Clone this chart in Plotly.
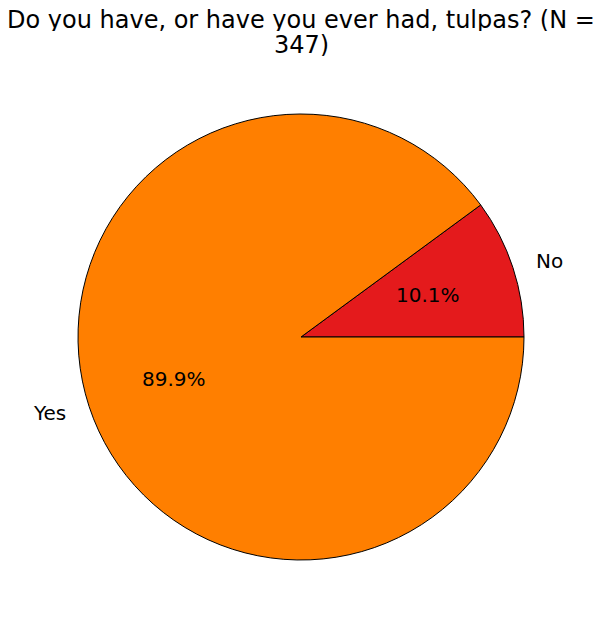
import math
import plotly.graph_objects as go

labels = ["No", "Yes"]
values = [35, 312]
colors = ["#e41a1c", "#ff7f00"]
title_lines = ["Do you have, or have you ever had, tulpas? (N =", "347)"]

W, H = 602, 624
OFF = 8  # page body margin
cx_px, cy_px, r_px = 301 - OFF, 337 - OFF, 223

total = sum(values)
first_deg = 360 * values[0] / total

fig = go.Figure()
fig.add_trace(go.Pie(
    labels=labels, values=values, sort=False,
    direction="counterclockwise", rotation=90 - first_deg,
    marker=dict(colors=colors, line=dict(color="black", width=1)),
    textinfo="none", hoverinfo="label+percent", showlegend=False,
    domain=dict(x=[(cx_px - r_px) / W, (cx_px + r_px) / W],
                y=[(H - cy_px - r_px) / H, (H - cy_px + r_px) / H]),
))

ann = []
start = 0.0
font = dict(family="DejaVu Sans", size=20, color="black")
for lab, v in zip(labels, values):
    frac = v / total
    mid = math.radians(start + frac * 360 / 2)
    start += frac * 360
    cx, cy = cx_px / W, (H - cy_px) / H
    rx, ry = r_px / W, r_px / H
    lx = cx + 1.1 * rx * math.cos(mid)
    ly = cy + 1.1 * ry * math.sin(mid)
    ann.append(dict(x=lx, y=ly, xref="paper", yref="paper", text=lab, showarrow=False,
                    xanchor="left" if math.cos(mid) > 0 else "right", yanchor="middle", font=font))
    px = cx + 0.6 * rx * math.cos(mid)
    py = cy + 0.6 * ry * math.sin(mid)
    ann.append(dict(x=px, y=py, xref="paper", yref="paper", text=f"{frac*100:.1f}%", showarrow=False,
                    xanchor="center", yanchor="middle", font=font))

for i, line in enumerate(title_lines):
    ann.append(dict(x=(301 - OFF) / W, y=(H - (20 - OFF) - 25 * i) / H, xref="paper", yref="paper",
                    text=line, showarrow=False, xanchor="center", yanchor="middle",
                    height=22, valign="middle", borderpad=0,
                    font=dict(family="DejaVu Sans", size=24, color="black")))

fig.update_layout(
    width=W, height=H, margin=dict(l=0, r=0, t=0, b=0),
    paper_bgcolor="white", plot_bgcolor="white",
    annotations=ann,
)
fig.write_html("out.html")
